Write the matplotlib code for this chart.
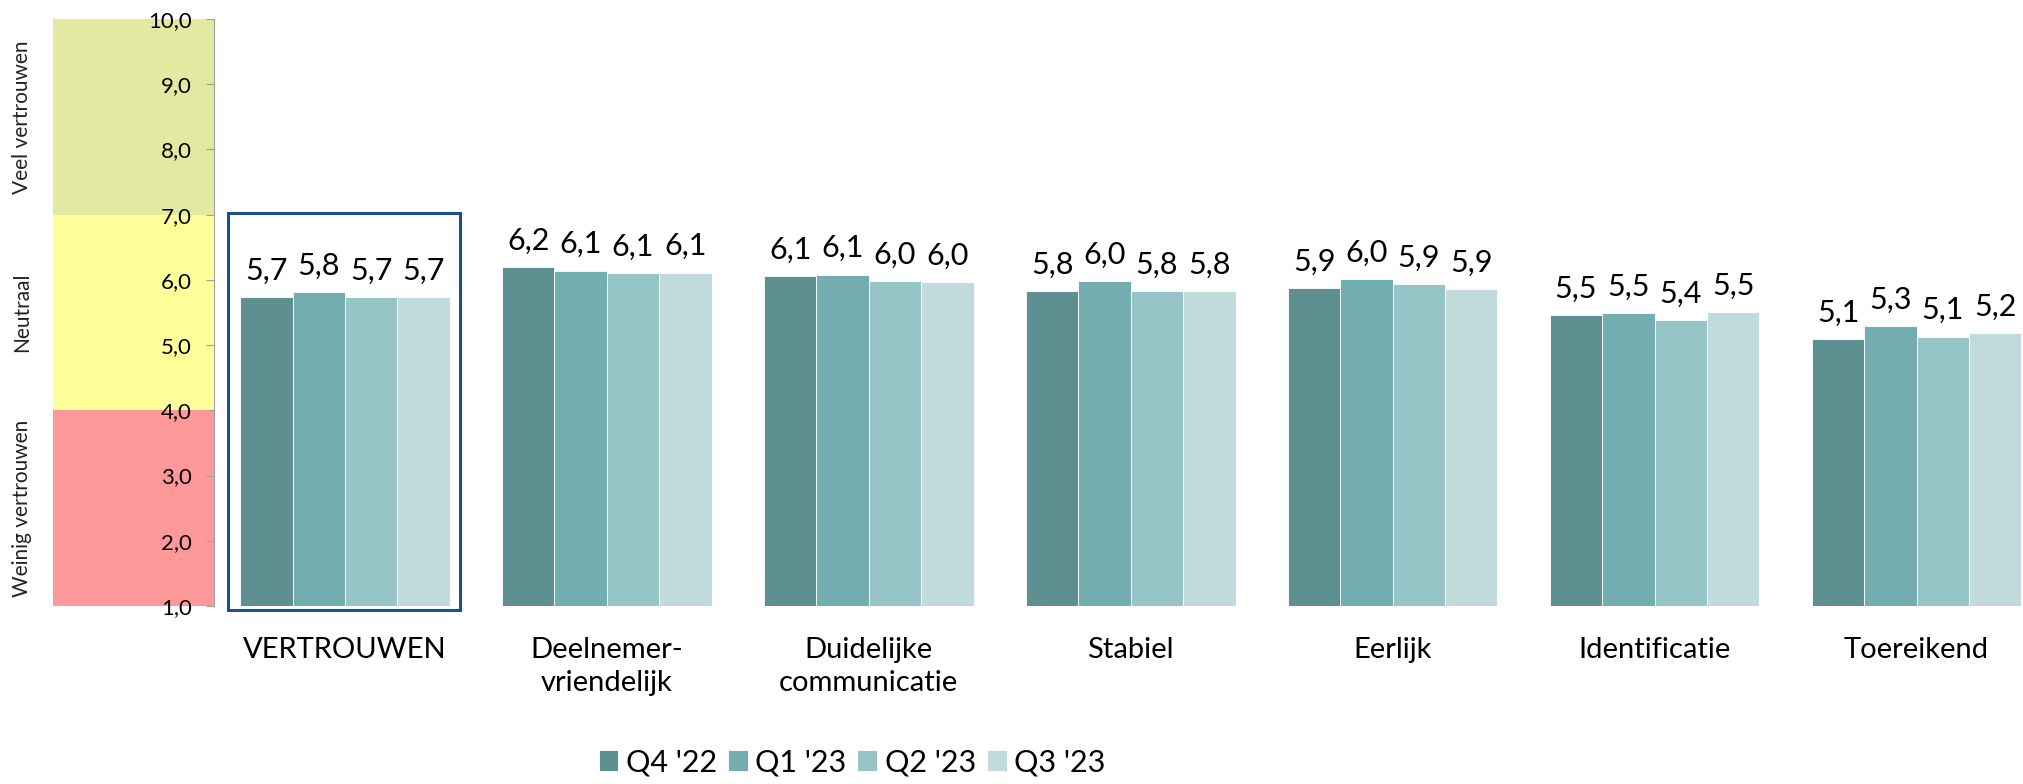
import matplotlib
matplotlib.use('Agg')
import matplotlib.pyplot as plt
from matplotlib.patches import Rectangle
import numpy as np

plt.rcParams['font.family'] = ['Lato', 'DejaVu Sans']

# data
categories = ['VERTROUWEN', 'Deelnemer-\nvriendelijk', 'Duidelijke\ncommunicatie', 'Stabiel',
              'Eerlijk', 'Identificatie', 'Toereikend']
series = ["Q4 '22", "Q1 '23", "Q2 '23", "Q3 '23"]
q4_22 = [5.74, 6.19, 6.06, 5.83, 5.87, 5.46, 5.09]
q1_23 = [5.81, 6.14, 6.08, 5.98, 6.01, 5.49, 5.29]
q2_23 = [5.73, 6.10, 5.98, 5.83, 5.94, 5.38, 5.13]
q3_23 = [5.73, 6.11, 5.96, 5.83, 5.86, 5.51, 5.18]
colors = ['#5E8F91', '#73ADB0', '#97C5C7', '#C1DBDC']

# zones on the left
zones = [(1, 4, '#FF9999', 'Weinig vertrouwen'),
         (4, 7, '#FFFF99', 'Neutraal'),
         (7, 10, '#E3E9A1', 'Veel vertrouwen')]

fig = plt.figure(figsize=(20.24, 7.84), dpi=100)
bottom = 0.227
top = 0.9758
ax = fig.add_axes([0.1057, bottom, 1 - 0.1057, top - bottom])
zax = fig.add_axes([0.0262, bottom, 0.1057 - 0.0262, top - bottom], zorder=-1)

for lo, hi, c, name in zones:
    zax.axhspan(lo, hi, color=c, lw=0)
    fig.text(0.011, bottom + (top - bottom) * ((lo + hi) / 2 - 1) / 9, name, rotation=90,
             ha='center', va='center', fontsize=15, color='#222222')
zax.set_ylim(1, 10)
zax.set_xlim(0, 1)
zax.axis('off')

x = np.arange(len(categories))
w = 0.2
all_vals = [q4_22, q1_23, q2_23, q3_23]
for i, (vals, lab, c) in enumerate(zip(all_vals, series, colors)):
    pos = x - 0.3 + i * w
    ax.bar(pos, np.array(vals) - 1, bottom=1, width=w, color=c, label=lab,
           edgecolor='white', linewidth=0.6)
    for p, v in zip(pos, vals):
        ax.annotate(('%.1f' % v).replace('.', ','), (p, v), xytext=(0, 9),
                    textcoords='offset points', ha='center', va='bottom', fontsize=22)

ax.add_patch(Rectangle((-0.447, 0.94), 0.886, 6.08, fill=False, edgecolor='#1B4F93',
                       linewidth=2.2, clip_on=False, zorder=5))

ax.set_ylim(1, 10)
ax.set_xlim(-0.5, 6.41)
ax.set_yticks(range(1, 11))
ax.set_yticklabels([('%d,0' % t) for t in range(1, 11)], fontsize=16)
ax.set_xticks(x)
ax.set_xticklabels(categories, fontsize=21, va='top', linespacing=1.35)
ax.tick_params(axis='x', length=0, pad=22)
ax.tick_params(axis='y', direction='out', length=6, color='#A0A0A0', pad=10)
for s in ['top', 'right', 'bottom']:
    ax.spines[s].set_visible(False)
ax.spines['left'].set_color('#A0A0A0')
ax.patch.set_alpha(0)

fig.legend(loc='lower center', bbox_to_anchor=(0.421, -0.025), ncol=4, frameon=False,
           fontsize=22, handlelength=0.65, handleheight=0.65, handletextpad=0.25,
           columnspacing=0.35)

fig.savefig('out.png', dpi=100)
